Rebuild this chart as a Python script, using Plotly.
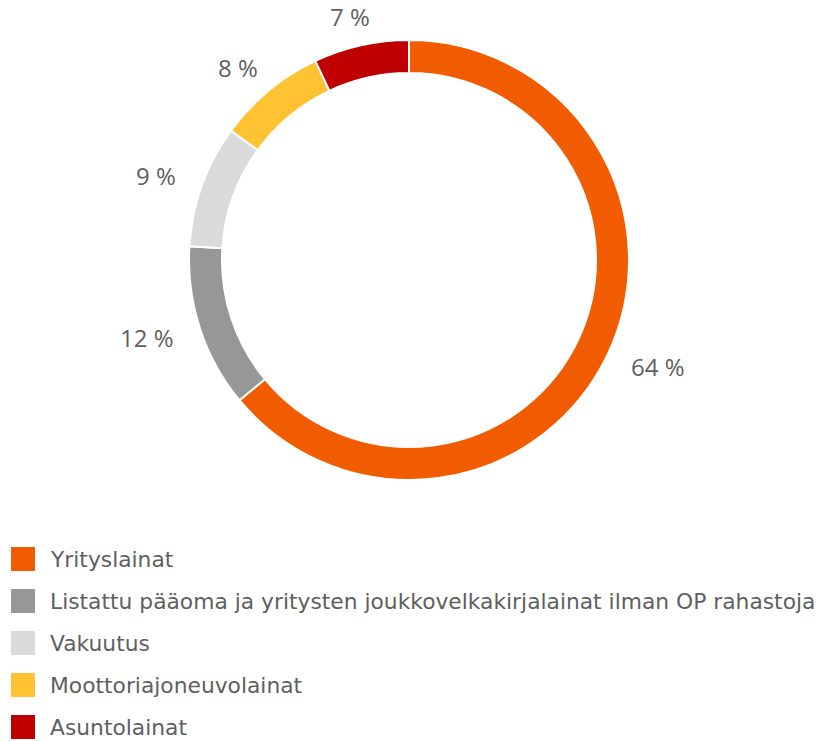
import math
import plotly.graph_objects as go

categories = [
    "Yrityslainat",
    "Listattu pääoma ja yritysten joukkovelkakirjalainat ilman OP rahastoja",
    "Vakuutus",
    "Moottoriajoneuvolainat",
    "Asuntolainat",
]
values = [64, 12, 9, 8, 7]
value_labels = ["64 %", "12 %", "9 %", "8 %", "7 %"]
colors = ["#F25C00", "#979797", "#DADADA", "#FFC233", "#C00000"]

W, H = 821, 741
cx, cy, R = 409, 260, 220
text_color = "#5F5F5F"
label_font = "'Open Sans', 'Noto Sans', sans-serif"
legend_font = "'DejaVu Sans', sans-serif"

fig = go.Figure(go.Pie(
    labels=categories,
    values=values,
    hole=0.85,
    sort=False,
    direction="clockwise",
    rotation=0,
    marker=dict(colors=colors, line=dict(color="white", width=2)),
    textinfo="none",
    hoverinfo="label+percent",
    showlegend=False,
    domain=dict(x=[(cx - R) / W, (cx + R) / W], y=[1 - (cy + R) / H, 1 - (cy - R) / H]),
))

annotations = []
total = sum(values)
cum = 0
r_lab = 250
char_w = 12.5
for v, lab in zip(values, value_labels):
    mid = (cum + v / 2) / total * 2 * math.pi
    cum += v
    s, c = math.sin(mid), math.cos(mid)
    px = cx + r_lab * s
    py = cy - r_lab * c
    w = char_w * len(lab)
    annotations.append(dict(
        x=px / W, y=1 - py / H, xref="paper", yref="paper",
        text=lab, showarrow=False, xanchor="center", yanchor="middle",
        xshift=w / 2 * s,
        font=dict(size=24, color=text_color, family=label_font),
    ))

shapes = []
row0, step, sq = 559, 42, 24
for i, (cat, col) in enumerate(zip(categories, colors)):
    yc = row0 + i * step
    shapes.append(dict(
        type="rect", xref="paper", yref="paper",
        x0=11 / W, x1=(11 + sq) / W,
        y0=1 - (yc + sq / 2) / H, y1=1 - (yc - sq / 2) / H,
        fillcolor=col, line=dict(width=0),
    ))
    annotations.append(dict(
        x=48 / W, y=1 - yc / H, xref="paper", yref="paper",
        text=cat, showarrow=False, xanchor="left", yanchor="middle",
        font=dict(size=21.8, color=text_color, family=legend_font),
    ))

fig.update_layout(
    width=W, height=H, autosize=False,
    margin=dict(l=0, r=0, t=0, b=0),
    paper_bgcolor="white", plot_bgcolor="white",
    annotations=annotations, shapes=shapes,
)

fig.write_html("out.html", config={"displayModeBar": False},
               post_script="document.body.style.margin='0';")
